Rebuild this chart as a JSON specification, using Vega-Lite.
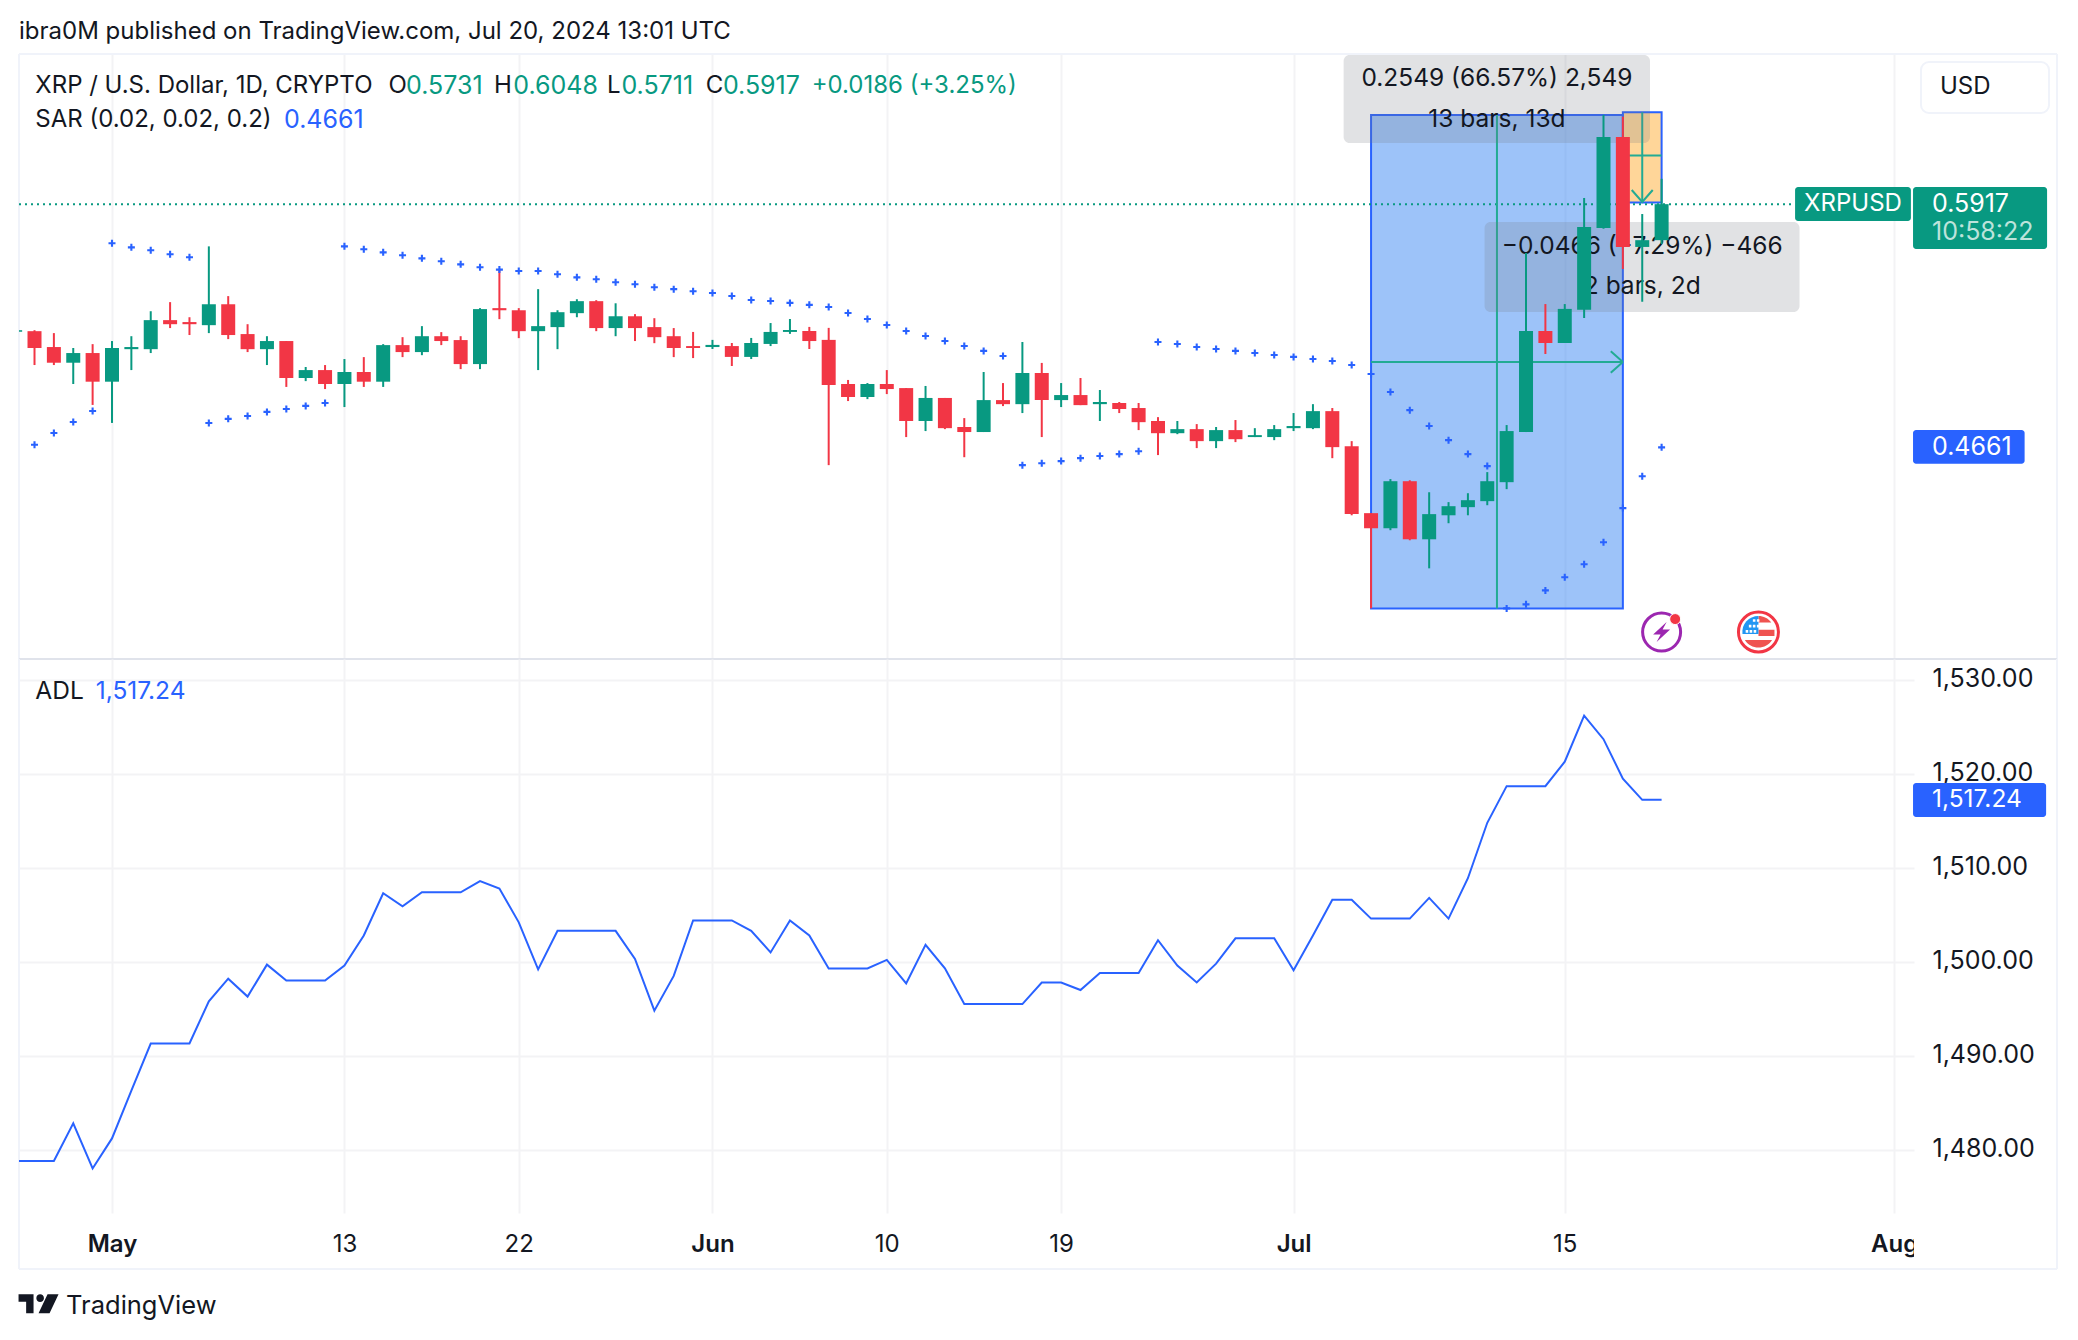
{
"$schema":"https://vega.github.io/schema/vega-lite/v6.json",
"background":"white","padding":0,"spacing":0,"bounds":"flush",
"config":{"view":{"stroke":null},"font":"Inter","axis":{"labelFont":"Inter","labelFontSize":24,"labelColor":"#131722","domain":false,"ticks":false,"title":null,"gridColor":"#F3F3F5","gridWidth":2}},
"datasets":{
"candles":[
{"date":"2024-04-26","open":0.5258,"high":0.5268,"low":0.5256,"close":0.5266},
{"date":"2024-04-27","open":0.5261,"high":0.5266,"low":0.5086,"close":0.5174},
{"date":"2024-04-28","open":0.5179,"high":0.5251,"low":0.5086,"close":0.5098},
{"date":"2024-04-29","open":0.5098,"high":0.5174,"low":0.4988,"close":0.5148},
{"date":"2024-04-30","open":0.5148,"high":0.5194,"low":0.4880,"close":0.5000},
{"date":"2024-05-01","open":0.5000,"high":0.5210,"low":0.4787,"close":0.5174},
{"date":"2024-05-02","open":0.5168,"high":0.5235,"low":0.5060,"close":0.5179},
{"date":"2024-05-03","open":0.5168,"high":0.5364,"low":0.5148,"close":0.5318},
{"date":"2024-05-04","open":0.5318,"high":0.5411,"low":0.5277,"close":0.5297},
{"date":"2024-05-05","open":0.5308,"high":0.5333,"low":0.5241,"close":0.5297},
{"date":"2024-05-06","open":0.5292,"high":0.5699,"low":0.5251,"close":0.5400},
{"date":"2024-05-07","open":0.5400,"high":0.5442,"low":0.5220,"close":0.5241},
{"date":"2024-05-08","open":0.5246,"high":0.5297,"low":0.5153,"close":0.5168},
{"date":"2024-05-09","open":0.5168,"high":0.5235,"low":0.5086,"close":0.5210},
{"date":"2024-05-10","open":0.5210,"high":0.5210,"low":0.4973,"close":0.5019},
{"date":"2024-05-11","open":0.5019,"high":0.5076,"low":0.5003,"close":0.5060},
{"date":"2024-05-12","open":0.5060,"high":0.5086,"low":0.4962,"close":0.4988},
{"date":"2024-05-13","open":0.4988,"high":0.5117,"low":0.4869,"close":0.5050},
{"date":"2024-05-14","open":0.5050,"high":0.5127,"low":0.4973,"close":0.5000},
{"date":"2024-05-15","open":0.5000,"high":0.5194,"low":0.4973,"close":0.5189},
{"date":"2024-05-16","open":0.5189,"high":0.5230,"low":0.5127,"close":0.5153},
{"date":"2024-05-17","open":0.5153,"high":0.5287,"low":0.5137,"close":0.5235},
{"date":"2024-05-18","open":0.5235,"high":0.5256,"low":0.5189,"close":0.5210},
{"date":"2024-05-19","open":0.5215,"high":0.5235,"low":0.5065,"close":0.5091},
{"date":"2024-05-20","open":0.5091,"high":0.5380,"low":0.5065,"close":0.5375},
{"date":"2024-05-21","open":0.5380,"high":0.5576,"low":0.5323,"close":0.5369},
{"date":"2024-05-22","open":0.5369,"high":0.5380,"low":0.5225,"close":0.5261},
{"date":"2024-05-23","open":0.5261,"high":0.5478,"low":0.5060,"close":0.5287},
{"date":"2024-05-24","open":0.5282,"high":0.5369,"low":0.5168,"close":0.5359},
{"date":"2024-05-25","open":0.5354,"high":0.5426,"low":0.5333,"close":0.5416},
{"date":"2024-05-26","open":0.5416,"high":0.5421,"low":0.5261,"close":0.5277},
{"date":"2024-05-27","open":0.5277,"high":0.5405,"low":0.5235,"close":0.5338},
{"date":"2024-05-28","open":0.5338,"high":0.5349,"low":0.5210,"close":0.5277},
{"date":"2024-05-29","open":0.5282,"high":0.5328,"low":0.5199,"close":0.5230},
{"date":"2024-05-30","open":0.5235,"high":0.5277,"low":0.5127,"close":0.5174},
{"date":"2024-05-31","open":0.5184,"high":0.5257,"low":0.5122,"close":0.5174},
{"date":"2024-06-01","open":0.5179,"high":0.5216,"low":0.5169,"close":0.5190},
{"date":"2024-06-02","open":0.5184,"high":0.5200,"low":0.5081,"close":0.5128},
{"date":"2024-06-03","open":0.5128,"high":0.5226,"low":0.5117,"close":0.5200},
{"date":"2024-06-04","open":0.5195,"high":0.5303,"low":0.5184,"close":0.5257},
{"date":"2024-06-05","open":0.5257,"high":0.5324,"low":0.5247,"close":0.5267},
{"date":"2024-06-06","open":0.5262,"high":0.5283,"low":0.5169,"close":0.5210},
{"date":"2024-06-07","open":0.5216,"high":0.5278,"low":0.4569,"close":0.4983},
{"date":"2024-06-08","open":0.4988,"high":0.5009,"low":0.4900,"close":0.4921},
{"date":"2024-06-09","open":0.4921,"high":0.4993,"low":0.4910,"close":0.4988},
{"date":"2024-06-10","open":0.4988,"high":0.5060,"low":0.4936,"close":0.4962},
{"date":"2024-06-11","open":0.4967,"high":0.4967,"low":0.4714,"close":0.4797},
{"date":"2024-06-12","open":0.4797,"high":0.4978,"low":0.4745,"close":0.4916},
{"date":"2024-06-13","open":0.4916,"high":0.4916,"low":0.4755,"close":0.4760},
{"date":"2024-06-14","open":0.4766,"high":0.4812,"low":0.4610,"close":0.4740},
{"date":"2024-06-15","open":0.4740,"high":0.5050,"low":0.4740,"close":0.4905},
{"date":"2024-06-16","open":0.4905,"high":0.4993,"low":0.4874,"close":0.4884},
{"date":"2024-06-17","open":0.4884,"high":0.5205,"low":0.4838,"close":0.5045},
{"date":"2024-06-18","open":0.5045,"high":0.5097,"low":0.4714,"close":0.4905},
{"date":"2024-06-19","open":0.4905,"high":0.4993,"low":0.4869,"close":0.4931},
{"date":"2024-06-20","open":0.4931,"high":0.5019,"low":0.4879,"close":0.4879},
{"date":"2024-06-21","open":0.4884,"high":0.4957,"low":0.4797,"close":0.4895},
{"date":"2024-06-22","open":0.4890,"high":0.4895,"low":0.4838,"close":0.4859},
{"date":"2024-06-23","open":0.4864,"high":0.4890,"low":0.4750,"close":0.4791},
{"date":"2024-06-24","open":0.4797,"high":0.4817,"low":0.4621,"close":0.4734},
{"date":"2024-06-25","open":0.4734,"high":0.4797,"low":0.4729,"close":0.4755},
{"date":"2024-06-26","open":0.4755,"high":0.4781,"low":0.4657,"close":0.4693},
{"date":"2024-06-27","open":0.4693,"high":0.4766,"low":0.4657,"close":0.4750},
{"date":"2024-06-28","open":0.4750,"high":0.4802,"low":0.4688,"close":0.4703},
{"date":"2024-06-29","open":0.4714,"high":0.4760,"low":0.4714,"close":0.4724},
{"date":"2024-06-30","open":0.4714,"high":0.4776,"low":0.4698,"close":0.4755},
{"date":"2024-07-01","open":0.4760,"high":0.4838,"low":0.4745,"close":0.4771},
{"date":"2024-07-02","open":0.4760,"high":0.4884,"low":0.4755,"close":0.4848},
{"date":"2024-07-03","open":0.4848,"high":0.4864,"low":0.4605,"close":0.4662},
{"date":"2024-07-04","open":0.4667,"high":0.4693,"low":0.4310,"close":0.4316},
{"date":"2024-07-05","open":0.4321,"high":0.4321,"low":0.3829,"close":0.4243},
{"date":"2024-07-06","open":0.4243,"high":0.4497,"low":0.4233,"close":0.4486},
{"date":"2024-07-07","open":0.4486,"high":0.4491,"low":0.4181,"close":0.4186},
{"date":"2024-07-08","open":0.4186,"high":0.4429,"low":0.4036,"close":0.4316},
{"date":"2024-07-09","open":0.4310,"high":0.4378,"low":0.4269,"close":0.4357},
{"date":"2024-07-10","open":0.4352,"high":0.4424,"low":0.4310,"close":0.4388},
{"date":"2024-07-11","open":0.4383,"high":0.4533,"low":0.4362,"close":0.4486},
{"date":"2024-07-12","open":0.4481,"high":0.4776,"low":0.4445,"close":0.4745},
{"date":"2024-07-13","open":0.4740,"high":0.5665,"low":0.4740,"close":0.5262},
{"date":"2024-07-14","open":0.5262,"high":0.5401,"low":0.5143,"close":0.5200},
{"date":"2024-07-15","open":0.5200,"high":0.5401,"low":0.5200,"close":0.5376},
{"date":"2024-07-16","open":0.5372,"high":0.5949,"low":0.5329,"close":0.5799},
{"date":"2024-07-17","open":0.5794,"high":0.6378,"low":0.5790,"close":0.6264},
{"date":"2024-07-18","open":0.6264,"high":0.6369,"low":0.5582,"close":0.5696},
{"date":"2024-07-19","open":0.5696,"high":0.5866,"low":0.5413,"close":0.5731},
{"date":"2024-07-20","open":0.5731,"high":0.6048,"low":0.5711,"close":0.5917}
],
"sar":[
{"date":"2024-04-27","price":0.4674},{"date":"2024-04-28","price":0.4735},{"date":"2024-04-29","price":0.4792},{"date":"2024-04-30","price":0.4849},
{"date":"2024-05-01","price":0.5715},{"date":"2024-05-02","price":0.5694},{"date":"2024-05-03","price":0.5679},{"date":"2024-05-04","price":0.5658},{"date":"2024-05-05","price":0.5643},
{"date":"2024-05-06","price":0.4787},{"date":"2024-05-07","price":0.4808},{"date":"2024-05-08","price":0.4823},{"date":"2024-05-09","price":0.4844},{"date":"2024-05-10","price":0.4859},{"date":"2024-05-11","price":0.4875},{"date":"2024-05-12","price":0.4890},
{"date":"2024-05-13","price":0.5699},{"date":"2024-05-14","price":0.5684},{"date":"2024-05-15","price":0.5668},{"date":"2024-05-16","price":0.5653},{"date":"2024-05-17","price":0.5637},{"date":"2024-05-18","price":0.5622},{"date":"2024-05-19","price":0.5606},{"date":"2024-05-20","price":0.5591},{"date":"2024-05-21","price":0.5579},{"date":"2024-05-22","price":0.5572},{"date":"2024-05-23","price":0.5572},{"date":"2024-05-24","price":0.5555},{"date":"2024-05-25","price":0.5539},{"date":"2024-05-26","price":0.5529},{"date":"2024-05-27","price":0.5514},{"date":"2024-05-28","price":0.5503},{"date":"2024-05-29","price":0.5488},{"date":"2024-05-30","price":0.5478},{"date":"2024-05-31","price":0.5467},
{"date":"2024-06-01","price":0.5458},{"date":"2024-06-02","price":0.5443},{"date":"2024-06-03","price":0.5422},{"date":"2024-06-04","price":0.5417},{"date":"2024-06-05","price":0.5407},{"date":"2024-06-06","price":0.5397},{"date":"2024-06-07","price":0.5386},{"date":"2024-06-08","price":0.5355},{"date":"2024-06-09","price":0.5324},{"date":"2024-06-10","price":0.5293},{"date":"2024-06-11","price":0.5262},{"date":"2024-06-12","price":0.5236},{"date":"2024-06-13","price":0.5210},{"date":"2024-06-14","price":0.5184},{"date":"2024-06-15","price":0.5159},{"date":"2024-06-16","price":0.5133},
{"date":"2024-06-17","price":0.4569},{"date":"2024-06-18","price":0.4579},{"date":"2024-06-19","price":0.4590},{"date":"2024-06-20","price":0.4605},{"date":"2024-06-21","price":0.4616},{"date":"2024-06-22","price":0.4626},{"date":"2024-06-23","price":0.4641},
{"date":"2024-06-24","price":0.5205},{"date":"2024-06-25","price":0.5195},{"date":"2024-06-26","price":0.5179},{"date":"2024-06-27","price":0.5169},{"date":"2024-06-28","price":0.5159},{"date":"2024-06-29","price":0.5148},{"date":"2024-06-30","price":0.5138},{"date":"2024-07-01","price":0.5128},{"date":"2024-07-02","price":0.5117},{"date":"2024-07-03","price":0.5107},{"date":"2024-07-04","price":0.5086},{"date":"2024-07-05","price":0.5040},{"date":"2024-07-06","price":0.4947},{"date":"2024-07-07","price":0.4853},{"date":"2024-07-08","price":0.4771},{"date":"2024-07-09","price":0.4698},{"date":"2024-07-10","price":0.4626},{"date":"2024-07-11","price":0.4564},
{"date":"2024-07-12","price":0.3829},{"date":"2024-07-13","price":0.3850},{"date":"2024-07-14","price":0.3922},{"date":"2024-07-15","price":0.3990},{"date":"2024-07-16","price":0.4057},{"date":"2024-07-17","price":0.4171},{"date":"2024-07-18","price":0.4347},{"date":"2024-07-19","price":0.4512},{"date":"2024-07-20","price":0.4661}
],
"adl":[
{"date":"2024-04-26","adl":1478.8},{"date":"2024-04-27","adl":1478.8},{"date":"2024-04-28","adl":1478.8},{"date":"2024-04-29","adl":1482.8},{"date":"2024-04-30","adl":1478.0},
{"date":"2024-05-01","adl":1481.2},{"date":"2024-05-02","adl":1486.3},{"date":"2024-05-03","adl":1491.3},{"date":"2024-05-04","adl":1491.3},{"date":"2024-05-05","adl":1491.3},{"date":"2024-05-06","adl":1495.8},{"date":"2024-05-07","adl":1498.2},{"date":"2024-05-08","adl":1496.3},{"date":"2024-05-09","adl":1499.7},{"date":"2024-05-10","adl":1498.0},{"date":"2024-05-11","adl":1498.0},{"date":"2024-05-12","adl":1498.0},{"date":"2024-05-13","adl":1499.6},{"date":"2024-05-14","adl":1502.8},{"date":"2024-05-15","adl":1507.3},{"date":"2024-05-16","adl":1505.9},{"date":"2024-05-17","adl":1507.4},{"date":"2024-05-18","adl":1507.4},{"date":"2024-05-19","adl":1507.4},{"date":"2024-05-20","adl":1508.6},{"date":"2024-05-21","adl":1507.8},{"date":"2024-05-22","adl":1504.2},{"date":"2024-05-23","adl":1499.2},{"date":"2024-05-24","adl":1503.3},{"date":"2024-05-25","adl":1503.3},{"date":"2024-05-26","adl":1503.3},{"date":"2024-05-27","adl":1503.3},{"date":"2024-05-28","adl":1500.3},{"date":"2024-05-29","adl":1494.8},{"date":"2024-05-30","adl":1498.5},{"date":"2024-05-31","adl":1504.4},
{"date":"2024-06-01","adl":1504.4},{"date":"2024-06-02","adl":1504.4},{"date":"2024-06-03","adl":1503.3},{"date":"2024-06-04","adl":1501.0},{"date":"2024-06-05","adl":1504.4},{"date":"2024-06-06","adl":1502.8},{"date":"2024-06-07","adl":1499.3},{"date":"2024-06-08","adl":1499.3},{"date":"2024-06-09","adl":1499.3},{"date":"2024-06-10","adl":1500.2},{"date":"2024-06-11","adl":1497.7},{"date":"2024-06-12","adl":1501.8},{"date":"2024-06-13","adl":1499.3},{"date":"2024-06-14","adl":1495.5},{"date":"2024-06-15","adl":1495.5},{"date":"2024-06-16","adl":1495.5},{"date":"2024-06-17","adl":1495.5},{"date":"2024-06-18","adl":1497.8},{"date":"2024-06-19","adl":1497.8},{"date":"2024-06-20","adl":1497.0},{"date":"2024-06-21","adl":1498.8},{"date":"2024-06-22","adl":1498.8},{"date":"2024-06-23","adl":1498.8},{"date":"2024-06-24","adl":1502.3},{"date":"2024-06-25","adl":1499.6},{"date":"2024-06-26","adl":1497.8},{"date":"2024-06-27","adl":1499.8},{"date":"2024-06-28","adl":1502.5},{"date":"2024-06-29","adl":1502.5},{"date":"2024-06-30","adl":1502.5},
{"date":"2024-07-01","adl":1499.1},{"date":"2024-07-02","adl":1502.8},{"date":"2024-07-03","adl":1506.6},{"date":"2024-07-04","adl":1506.6},{"date":"2024-07-05","adl":1504.6},{"date":"2024-07-06","adl":1504.6},{"date":"2024-07-07","adl":1504.6},{"date":"2024-07-08","adl":1506.8},{"date":"2024-07-09","adl":1504.6},{"date":"2024-07-10","adl":1508.9},{"date":"2024-07-11","adl":1514.8},{"date":"2024-07-12","adl":1518.7},{"date":"2024-07-13","adl":1518.7},{"date":"2024-07-14","adl":1518.7},{"date":"2024-07-15","adl":1521.3},{"date":"2024-07-16","adl":1526.2},{"date":"2024-07-17","adl":1523.7},{"date":"2024-07-18","adl":1519.5},{"date":"2024-07-19","adl":1517.24},{"date":"2024-07-20","adl":1517.24}
],
"boxes":[
{"kind":"bounds","date":"2024-04-25T05:15Z","date2":"2024-08-10T10:48Z","price":0.69664,"price2":0.005},
{"kind":"measure","date":"2024-07-05","date2":"2024-07-18","price":0.6378,"price2":0.3829},
{"kind":"orange","date":"2024-07-18","date2":"2024-07-20","price":0.6392,"price2":0.5926},
{"kind":"note","date":"2024-07-03T14:00Z","date2":"2024-07-19T09:36Z","price":0.6687,"price2":0.6233},
{"kind":"note","date":"2024-07-10T20:38Z","date2":"2024-07-27T02:53Z","price":0.5825,"price2":0.536},
{"kind":"usd","date":"2024-08-02T09:22Z","date2":"2024-08-09T00:00Z","price":0.6651,"price2":0.6388}
],
"tags":[
{"tone":"green","date":"2024-07-26T21:22Z","date2":"2024-08-01T20:53Z","price":0.6006,"price2":0.583},
{"tone":"green","date":"2024-08-01T23:31Z","date2":"2024-08-08T21:36Z","price":0.6006,"price2":0.5685},
{"tone":"blue","date":"2024-08-01T23:31Z","date2":"2024-08-07T17:46Z","price":0.475,"price2":0.4576}
],
"frame":[
{"seg":"top","date":"2024-04-26T04:47Z","price":0.66926},{"seg":"top","date":"2024-08-09T09:50Z","price":0.66926},
{"seg":"left","date":"2024-04-26T04:47Z","price":0.66926},{"seg":"left","date":"2024-04-26T04:47Z","price":0.35677},
{"seg":"right","date":"2024-08-09T09:50Z","price":0.66926},{"seg":"right","date":"2024-08-09T09:50Z","price":0.35677}
],
"separator":[{"date":"2024-04-26T04:47Z","date2":"2024-08-09T09:50Z","price":0.35677}],
"last":[{"date":"2024-04-26T04:47Z","date2":"2024-07-26T21:22Z","price":0.5917}],
"arrows":[
{"seg":"a","date":"2024-07-05","price":0.5102},{"seg":"a","date":"2024-07-18","price":0.5102},
{"seg":"b","date":"2024-07-11T12:00Z","price":0.6378},{"seg":"b","date":"2024-07-11T12:00Z","price":0.3829},
{"seg":"c1","date":"2024-07-17T09:00Z","price":0.5157},{"seg":"c1","date":"2024-07-18","price":0.5102},
{"seg":"c2","date":"2024-07-17T09:00Z","price":0.5046},{"seg":"c2","date":"2024-07-18","price":0.5102},
{"seg":"d","date":"2024-07-19","price":0.6392},{"seg":"d","date":"2024-07-19","price":0.5926},
{"seg":"e","date":"2024-07-18","price":0.6168},{"seg":"e","date":"2024-07-20","price":0.6168},
{"seg":"f","date":"2024-07-18T11:00Z","price":0.599},{"seg":"f","date":"2024-07-19","price":0.5928},{"seg":"f","date":"2024-07-19T13:00Z","price":0.599}
],
"notes":[
{"date":"2024-07-11T12:00Z","price":0.6564,"label":"0.2549 (66.57%) 2,549"},
{"date":"2024-07-11T12:00Z","price":0.6352,"label":"13 bars, 13d"},
{"date":"2024-07-19","price":0.5696,"label":"−0.0466 (−7.29%) −466"},
{"date":"2024-07-19","price":0.5489,"label":"2 bars, 2d"}
],
"textTop":[
{"date":"2024-04-26T04:47Z","price":0.6806,"label":"ibra0M published on TradingView.com, Jul 20, 2024 13:01 UTC","tone":"dark"},
{"date":"2024-04-27T01:00Z","price":0.6527,"label":"XRP / U.S. Dollar, 1D, CRYPTO","tone":"dark"},
{"date":"2024-05-15T06:30Z","price":0.6527,"label":"O","tone":"dark"},
{"date":"2024-05-16T04:19Z","price":0.6527,"label":"0.5731","tone":"green"},
{"date":"2024-05-20T17:17Z","price":0.6527,"label":"H","tone":"dark"},
{"date":"2024-05-21T17:19Z","price":0.6527,"label":"0.6048","tone":"green"},
{"date":"2024-05-26T13:12Z","price":0.6527,"label":"L","tone":"dark"},
{"date":"2024-05-27T07:12Z","price":0.6527,"label":"0.5711","tone":"green"},
{"date":"2024-05-31T15:36Z","price":0.6527,"label":"C","tone":"dark"},
{"date":"2024-06-01T12:58Z","price":0.6527,"label":"0.5917","tone":"green"},
{"date":"2024-06-06T02:53Z","price":0.6527,"label":"+0.0186 (+3.25%)","tone":"green"},
{"date":"2024-04-27T01:00Z","price":0.6352,"label":"SAR (0.02, 0.02, 0.2)","tone":"dark"},
{"date":"2024-05-09T21:07Z","price":0.6352,"label":"0.4661","tone":"blue"},
{"date":"2024-08-03T08:53Z","price":0.6522,"label":"USD","tone":"dark"},
{"date":"2024-07-29T21:07Z","price":0.5917,"label":"XRPUSD","tone":"white"},
{"date":"2024-08-02T23:02Z","price":0.5917,"label":"0.5917","tone":"white"},
{"date":"2024-08-02T23:02Z","price":0.5773,"label":"10:58:22","tone":"faint"},
{"date":"2024-08-02T23:02Z","price":0.4661,"label":"0.4661","tone":"white"}
],
"icons":[
{"icon":"event","date":"2024-07-20","price":0.3707},
{"icon":"flag","date":"2024-07-25","price":0.3707},
{"icon":"dot","date":"2024-07-20T16:48Z","price":0.3774}
],
"frame2":[
{"seg":"left","date":"2024-04-26T04:47Z","adl":1532.235},{"seg":"left","date":"2024-04-26T04:47Z","adl":1467.3},
{"seg":"right","date":"2024-08-09T09:50Z","adl":1532.235},{"seg":"right","date":"2024-08-09T09:50Z","adl":1467.3},
{"seg":"bottom","date":"2024-04-26T04:47Z","adl":1467.3},{"seg":"bottom","date":"2024-08-09T09:50Z","adl":1467.3}
],
"adlTag":[{"date":"2024-08-01T23:31Z","date2":"2024-08-08T20:24Z","adl":1519.04,"adl2":1515.42}],
"axisMask":[{"date":"2024-08-02T00:43Z","date2":"2024-08-03T00:00Z","adl":1471.8,"adl2":1468.0}],
"textBottom":[
{"date":"2024-04-27T01:00Z","adl":1528.72,"label":"ADL","tone":"dark"},
{"date":"2024-04-30T03:50Z","adl":1528.72,"label":"1,517.24","tone":"blue"},
{"date":"2024-08-02T23:02Z","adl":1517.24,"label":"1,517.24","tone":"white"}
],
"brand":[{"date":"2024-04-28T15:07Z","adl":1463.37,"label":"TradingView"}],
"logo":[{"date":"2024-04-27T05:00Z","adl":1463.6}]
},
"vconcat":[
{"width":1895,"height":605,
 "encoding":{
  "x":{"field":"date","type":"temporal","scale":{"type":"utc","nice":false,"padding":0,"domain":["2024-04-26T04:47:00Z","2024-08-02T00:43:00Z"]},
   "axis":{"values":["2024-05-01","2024-05-13","2024-05-22","2024-06-01","2024-06-10","2024-06-19","2024-07-01","2024-07-15","2024-08-01"],"labels":false,"grid":true}},
  "y":{"field":"price","type":"quantitative","scale":{"domain":[0.35677,0.66926]},
   "axis":{"orient":"right","values":[0.4,0.45,0.5,0.55,0.6,0.65],"labelExpr":"datum.value>0.64?'':format(datum.value,'.4f')","labelPadding":18,"labelFontSize":25,"grid":true}}
 },
 "layer":[
  {"data":{"name":"boxes"},"transform":[{"filter":"datum.kind==='bounds'"}],"mark":{"type":"rect","fill":"transparent","opacity":0},"encoding":{"x2":{"field":"date2"},"y2":{"field":"price2"}}},
  {"data":{"name":"frame"},"mark":{"type":"line","color":"#F0F3FA","strokeWidth":2,"clip":false},"encoding":{"detail":{"field":"seg"}}},
  {"data":{"name":"separator"},"mark":{"type":"rule","color":"#E0E3EB","strokeWidth":2},"encoding":{"x2":{"field":"date2"}}},
  {"data":{"name":"boxes"},"transform":[{"filter":"datum.kind==='measure'"}],"mark":{"type":"rect","fill":"#2F7FF2","fillOpacity":0.47,"stroke":"#2962FF","strokeWidth":2},"encoding":{"x2":{"field":"date2"},"y2":{"field":"price2"}}},
  {"data":{"name":"boxes"},"transform":[{"filter":"datum.kind==='orange'"}],"mark":{"type":"rect","fill":"#FF9800","fillOpacity":0.4,"stroke":"#2962FF","strokeWidth":2},"encoding":{"x2":{"field":"date2"},"y2":{"field":"price2"}}},
  {"data":{"name":"last"},"mark":{"type":"rule","color":"#089981","strokeWidth":2,"strokeDash":[2,4]},"encoding":{"x2":{"field":"date2"}}},
  {"data":{"name":"arrows"},"mark":{"type":"line","color":"#22AB94","strokeWidth":2},"encoding":{"detail":{"field":"seg"}}},
  {"data":{"name":"boxes"},"transform":[{"filter":"datum.kind==='note'"}],"mark":{"type":"rect","fill":"#787B86","fillOpacity":0.22,"cornerRadius":6},"encoding":{"x2":{"field":"date2"},"y2":{"field":"price2"}}},
  {"data":{"name":"notes"},"mark":{"type":"text","align":"center","baseline":"middle","fontSize":24.5,"color":"#131722"},"encoding":{"text":{"field":"label"}}},
  {"data":{"name":"candles"},"mark":{"type":"rule","strokeWidth":2,"clip":true},
   "encoding":{"y":{"field":"low","type":"quantitative","scale":{"domain":[0.35677,0.66926]},"axis":null},"y2":{"field":"high"},
    "color":{"condition":{"test":"datum.close>=datum.open","value":"#089981"},"value":"#F23645"}}},
  {"data":{"name":"candles"},"mark":{"type":"bar","size":14,"clip":true},
   "encoding":{"y":{"field":"open","type":"quantitative","scale":{"domain":[0.35677,0.66926]},"axis":null},"y2":{"field":"close"},
    "color":{"condition":{"test":"datum.close>=datum.open","value":"#089981"},"value":"#F23645"}}},
  {"data":{"name":"sar"},"mark":{"type":"point","filled":true,"color":"#2962FF","opacity":1,"size":49,"shape":"M-1,-0.3 H-0.3 V-1 H0.3 V-0.3 H1 V0.3 H0.3 V1 H-0.3 V0.3 H-1 Z"}},
  {"data":{"name":"boxes"},"transform":[{"filter":"datum.kind==='usd'"}],"mark":{"type":"rect","fill":"white","stroke":"#F0F3FA","strokeWidth":2,"cornerRadius":8},"encoding":{"x2":{"field":"date2"},"y2":{"field":"price2"}}},
  {"data":{"name":"tags"},"mark":{"type":"rect","cornerRadius":3},"encoding":{"x2":{"field":"date2"},"y2":{"field":"price2"},"fill":{"field":"tone","type":"nominal","scale":{"domain":["green","blue"],"range":["#089981","#2962FF"]},"legend":null}}},
  {"data":{"name":"textTop"},"transform":[{"filter":"datum.label!=='XRPUSD'"}],"mark":{"type":"text","align":"left","baseline":"middle"},"encoding":{"text":{"field":"label"},"size":{"condition":{"test":"test(/^[0-9]/,datum.label)","value":25},"value":24},"color":{"field":"tone","type":"nominal","scale":{"domain":["dark","green","blue","white","faint"],"range":["#131722","#089981","#2962FF","#FFFFFF","#BCE3DB"]},"legend":null}}},
  {"data":{"name":"textTop"},"transform":[{"filter":"datum.label==='XRPUSD'"}],"mark":{"type":"text","align":"center","baseline":"middle","fontSize":24,"color":"#FFFFFF"},"encoding":{"text":{"field":"label"}}},
  {"data":{"name":"icons"},"transform":[{"filter":"datum.icon==='event'"}],"mark":{"type":"point","shape":"circle","size":1444,"filled":false,"stroke":"#9C27B0","strokeWidth":3,"opacity":1}},
  {"data":{"name":"icons"},"transform":[{"filter":"datum.icon==='event'"}],"mark":{"type":"point","shape":"M0.5,-1 L-0.85,0.25 H-0.1 L-0.5,1 L0.85,-0.25 H0.1 Z","size":400,"filled":true,"color":"#9C27B0","opacity":1}},
  {"data":{"name":"icons"},"transform":[{"filter":"datum.icon==='dot'"}],"mark":{"type":"point","shape":"circle","size":121,"filled":true,"color":"#F23645","stroke":"white","strokeWidth":1,"opacity":1}},
  {"data":{"name":"icons"},"transform":[{"filter":"datum.icon==='flag'"}],"mark":{"type":"point","shape":"circle","size":1600,"filled":true,"fill":"white","stroke":"#F23645","strokeWidth":3,"opacity":1}},
  {"data":{"name":"icons"},"transform":[{"filter":"datum.icon==='flag'"}],"mark":{"type":"point","shape":"M0,-1 A1,1 0 0 1 0.8,-0.6 H0 Z M0,-0.15 H1 V0.25 H0 Z M-0.85,0.5 H0.85 A1,1 0 0 1 -0.85,0.5 Z","size":1024,"filled":true,"color":"#EF5350","opacity":1}},
  {"data":{"name":"icons"},"transform":[{"filter":"datum.icon==='flag'"}],"mark":{"type":"point","shape":"M0,-1 V0.12 H-1 A1,1 0 0 1 0,-1 Z","size":1024,"filled":true,"color":"#2196F3","opacity":1}},
  {"data":{"name":"icons"},"transform":[{"filter":"datum.icon==='flag'"}],"mark":{"type":"point","shape":"M-0.35,-0.8 h0.16 v0.16 h-0.16 z M-0.1,-0.8 h0.16 v0.16 h-0.16 z M-0.6,-0.45 h0.16 v0.16 h-0.16 z M-0.35,-0.45 h0.16 v0.16 h-0.16 z M-0.1,-0.45 h0.16 v0.16 h-0.16 z M-0.8,-0.12 h0.16 v0.16 h-0.16 z M-0.55,-0.12 h0.16 v0.16 h-0.16 z M-0.3,-0.12 h0.16 v0.16 h-0.16 z","size":1024,"filled":true,"color":"white","opacity":1}}
 ]
},
{"width":1895,"height":554,
 "encoding":{
  "x":{"field":"date","type":"temporal","scale":{"type":"utc","nice":false,"padding":0,"domain":["2024-04-26T04:47:00Z","2024-08-02T00:43:00Z"]},
   "axis":{"values":["2024-05-01","2024-05-13","2024-05-22","2024-06-01","2024-06-10","2024-06-19","2024-07-01","2024-07-15","2024-08-01"],"labelExpr":"utcdate(datum.value)==1 ? utcFormat(datum.value,'%b') : utcFormat(datum.value,'%-d')","labelFontWeight":{"condition":{"test":"utcdate(datum.value)==1","value":600},"value":400},"labelPadding":19,"labelOverlap":false,"labelBound":false,"labelFlush":false,"grid":true}},
  "y":{"field":"adl","type":"quantitative","scale":{"domain":[1473.26,1532.235]},
   "axis":{"orient":"right","values":[1480,1490,1500,1510,1520,1530],"format":",.2f","labelPadding":18,"labelFontSize":25,"labelOffset":-1,"grid":true}}
 },
 "layer":[
  {"data":{"name":"frame2"},"mark":{"type":"line","color":"#F0F3FA","strokeWidth":2,"clip":false},"encoding":{"detail":{"field":"seg"}}},
  {"data":{"name":"adl"},"mark":{"type":"line","color":"#2962FF","strokeWidth":2,"clip":true}},
  {"data":{"name":"axisMask"},"mark":{"type":"rect","fill":"white"},"encoding":{"x2":{"field":"date2"},"y2":{"field":"adl2"}}},
  {"data":{"name":"adlTag"},"mark":{"type":"rect","fill":"#2962FF","cornerRadius":3},"encoding":{"x2":{"field":"date2"},"y2":{"field":"adl2"}}},
  {"data":{"name":"textBottom"},"mark":{"type":"text","align":"left","baseline":"middle","fontSize":24.5},"encoding":{"text":{"field":"label"},"color":{"field":"tone","type":"nominal","scale":{"domain":["dark","blue","white"],"range":["#131722","#2962FF","#FFFFFF"]},"legend":null}}},
  {"data":{"name":"brand"},"mark":{"type":"text","align":"left","baseline":"middle","fontSize":25.5,"color":"#131722"},"encoding":{"text":{"field":"label"}}},
  {"data":{"name":"logo"},"mark":{"type":"point","shape":"M-1,-0.47 H-0.25 V0.47 H-0.62 V-0.1 H-1 Z M-0.11,-0.28 A0.19,0.19 0 1 1 0.27,-0.28 A0.19,0.19 0 1 1 -0.11,-0.28 Z M0.45,-0.47 H1 L0.55,0.47 H0 Z","size":1600,"filled":true,"color":"#131722","opacity":1}}
 ]
}
]
}
